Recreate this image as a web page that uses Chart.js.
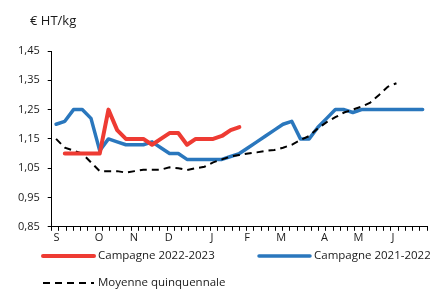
<!DOCTYPE html>
<html>
<head>
<meta charset="utf-8">
<script src="https://cdn.jsdelivr.net/npm/chart.js@4.4.0/dist/chart.umd.min.js"></script>
<style>
  html,body{margin:0;padding:0;background:#fff;}
</style>
</head>
<body>
<canvas id="chart" width="430" height="289"></canvas>
<script>
// --- Data ---
const unitLabel = "€ HT/kg";
const weeks = ["1","2","3","4","5","6","7","8","9","10","11","12","13","14","15","16","17","18","19","20","21","22",
  "23","24","25","26","27","28","29","30","31","32","33","34","35","36","37","38","39","40","41","42","43"];

const campagne2223 = [null,1.10,1.10,1.10,1.10,1.10,1.25,1.18,1.15,1.15,1.15,1.13,1.15,1.17,1.17,1.13,1.15,1.15,1.15,1.16,1.18,1.19,
  null,null,null,null,null,null,null,null,null,null,null,null,null,null,null,null,null,null,null,null,null];
const campagne2122 = [1.20,1.21,1.25,1.25,1.22,1.11,1.15,1.14,1.13,1.13,1.13,1.14,1.12,1.10,1.10,1.08,1.08,1.08,1.08,1.08,1.09,1.10,
  1.12,1.14,1.16,1.18,1.20,1.21,1.15,1.15,1.19,1.22,1.25,1.25,1.24,1.25,1.25,1.25,1.25,1.25,1.25,1.25,1.25];
const moyenne5ans = [1.15,1.12,1.11,1.10,1.07,1.04,1.04,1.04,1.035,1.04,1.045,1.045,1.045,1.053,1.05,1.044,1.05,1.055,1.07,1.08,1.09,1.095,
  1.10,1.104,1.109,1.112,1.12,1.13,1.146,1.16,1.186,1.207,1.224,1.24,1.25,1.26,1.274,1.30,1.328,1.34,null,null,null];

// month letters and the week (of the 52-week axis) each one sits at
const monthLabels = ["S","O","N","D","J","F","M","A","M","J"];
const monthAt = [0.65,6.54,11.38,16.22,22.2,27.06,31.8,37.8,42.5,47.3];

Chart.defaults.font.family = "'Open Sans', sans-serif";
Chart.defaults.font.size = 11;
Chart.defaults.color = "#1a1a1a";

// --- Title + legend drawn on the canvas ---
const legendPlugin = {
  id: "customLegend",
  afterDraw(chart){
    const ctx = chart.ctx;
    ctx.save();
    ctx.fillStyle = "#1a1a1a";
    ctx.textBaseline = "middle";
    ctx.font = "13px 'Open Sans'";
    ctx.fillText(unitLabel, 30, 21);

    const spots = [[43,256],[259,256],[43,283]];
    ctx.font = "11.5px 'Open Sans'";
    chart.data.datasets.forEach((ds,i)=>{
      const [x,y] = spots[i];
      ctx.beginPath();
      ctx.strokeStyle = ds.borderColor;
      ctx.lineWidth = ds.borderWidth;
      ctx.lineCap = ds.borderDash ? "butt" : "round";
      ctx.setLineDash(ds.borderDash || []);
      ctx.moveTo(x, y);
      ctx.lineTo(x+51, y);
      ctx.stroke();
      ctx.setLineDash([]);
      ctx.fillText(ds.label, x+55, y);
    });
    ctx.restore();
  }
};

const ctx = document.getElementById("chart").getContext("2d");
new Chart(ctx, {
  type: "line",
  data: {
    labels: weeks,
    datasets: [
      {label:"Campagne 2022-2023", data:campagne2223, borderColor:"#ee3b33", borderWidth:4, order:0,
       borderCapStyle:"round", borderJoinStyle:"round"},
      {label:"Campagne 2021-2022", data:campagne2122, borderColor:"#2a77bd", borderWidth:3.5, order:2,
       borderCapStyle:"round", borderJoinStyle:"round"},
      {label:"Moyenne quinquennale", data:moyenne5ans, borderColor:"#000000", borderWidth:2, order:1,
       borderDash:[7,5]}
    ]
  },
  options: {
    responsive: false,
    animation: false,
    layout: { padding: { top: 51, left: 10, right: 3, bottom: 45 } },
    elements: { point: { radius: 0 }, line: { tension: 0 } },
    plugins: { legend: { display: false }, tooltip: { enabled: false } },
    scales: {
      x: { type: "category", offset: true, display: false },
      weekTicks: {
        type: "linear", position: "bottom", axis: "x", weight: 0, min: 0, max: 52,
        ticks: { display: false, stepSize: 1, maxTicksLimit: 100 },
        grid: { drawOnChartArea: false, tickLength: 4, color: "#000" },
        border: { color: "#000", width: 1 }
      },
      months: {
        type: "linear", position: "bottom", axis: "x", weight: 1, min: 0, max: 52,
        afterBuildTicks: axis => { axis.ticks = monthAt.map(v=>({value:v})); },
        ticks: { autoSkip: false, maxRotation: 0, padding: 0,
          callback: (v, i) => monthLabels[i] },
        grid: { display: false, drawTicks: false },
        border: { display: false }
      },
      y: {
        min: 0.85, max: 1.45,
        ticks: { stepSize: 0.1, maxTicksLimit: 20, padding: 8,
          callback: v => v.toFixed(2).replace(".", ",") },
        grid: { drawOnChartArea: false, tickLength: 4, color: "#000" },
        border: { color: "#000", width: 1 }
      }
    }
  },
  plugins: [legendPlugin]
});
</script>
</body>
</html>
